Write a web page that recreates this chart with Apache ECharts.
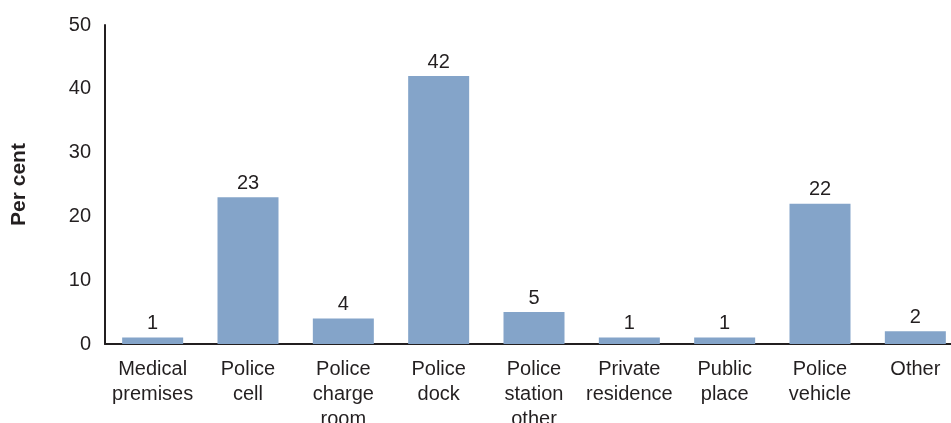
<!DOCTYPE html>
<html><head><meta charset="utf-8">
<script src="https://cdn.jsdelivr.net/npm/echarts@6/dist/echarts.min.js"></script>
<style>html,body{margin:0;padding:0;background:#fff}#c{width:951px;height:423px}</style>
</head><body><div id="c"></div>
<script>
const categories = ["Medical\npremises","Police\ncell","Police\ncharge\nroom","Police\ndock","Police\nstation\nother","Private\nresidence","Public\nplace","Police\nvehicle","Other"];
const values = [1,23,4,42,5,1,1,22,2];
const yTicks = {min:0, max:50, interval:10};
const txt = '#231F20';
const ff = 'Liberation Sans, Arial';
const chart = echarts.init(document.getElementById('c'));
chart.setOption({
  animation:false,
  grid:{left:105, right:-12, top:25, bottom:79, containLabel:false, outerBoundsMode:'none'},
  xAxis:{type:'category', data:categories,
    axisLine:{lineStyle:{color:txt,width:2}}, axisTick:{show:false},
    axisLabel:{color:txt, fontFamily:ff, fontSize:20, lineHeight:25, margin:13, interval:0}},
  yAxis:{type:'value', min:yTicks.min, max:yTicks.max, interval:yTicks.interval,
    name:'Per cent', nameLocation:'middle', nameGap:75, nameRotate:90,
    nameTextStyle:{color:txt, fontFamily:ff, fontSize:21, fontWeight:'bold'},
    axisLine:{show:true, lineStyle:{color:txt,width:2}}, axisTick:{show:false}, splitLine:{show:false},
    axisLabel:{color:txt, fontFamily:ff, fontSize:20, margin:14}},
  series:[{type:'bar', data:values, barWidth:61,
    itemStyle:{color:'#84A4C9'},
    label:{show:true, position:'top', distance:4, color:txt, fontFamily:ff, fontSize:20}}]
});
</script></body></html>
